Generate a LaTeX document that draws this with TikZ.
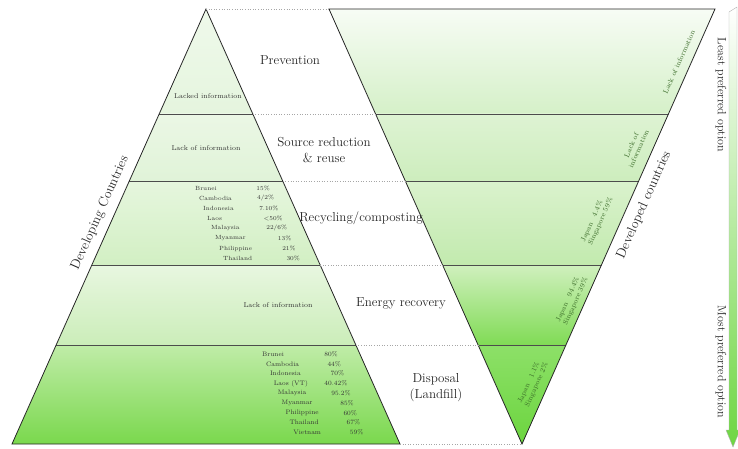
\documentclass[tikz,border=0pt]{standalone}
\usetikzlibrary{calc}

\definecolor{lA}{HTML}{EFF9EB}\definecolor{lB}{HTML}{E5F5DE}
\definecolor{lC}{HTML}{EBF7E5}\definecolor{lD}{HTML}{E0F3D8}
\definecolor{lE}{HTML}{E6F6DE}\definecolor{lF}{HTML}{D2EFC3}
\definecolor{lG}{HTML}{E8F7E0}\definecolor{lH}{HTML}{CBEDB9}
\definecolor{lI}{HTML}{C0ECA8}\definecolor{lJ}{HTML}{7AD84D}
\definecolor{rA}{HTML}{F7FCF5}\definecolor{rB}{HTML}{D5F0C8}
\definecolor{rC}{HTML}{DEF3D3}\definecolor{rD}{HTML}{CDEDBD}
\definecolor{rE}{HTML}{DAF2CD}\definecolor{rF}{HTML}{C2EAAE}
\definecolor{rG}{HTML}{D0F0BE}\definecolor{rH}{HTML}{80DB55}
\definecolor{rI}{HTML}{8DE068}\definecolor{rJ}{HTML}{6CD53F}
\definecolor{arrowgreen}{HTML}{6ED642}
\definecolor{devtext}{HTML}{3A6B28}

\begin{document}
\begin{tikzpicture}[x=1pt,y=-1pt,
  band/.style={draw=black!70,line width=0.5pt},
  gap/.style={draw=black!35,dotted,line width=0.6pt},
  level/.style={font=\fontsize{13}{16}\selectfont,align=center,text=black!85},
  side/.style={font=\fontsize{13.5}{16}\selectfont,text=black!85},
  pref/.style={font=\fontsize{12}{14}\selectfont,text=black!85,rotate=-90},
  note/.style={font=\fontsize{7}{8}\selectfont,text=black!80,align=center},
  lst/.style={font=\fontsize{6}{7}\selectfont,inner sep=0pt,text=black!80},
  dev/.style={font=\fontsize{7}{8}\selectfont,text=devtext,align=left,rotate=66}]

\useasboundingbox (0,0) rectangle (738,449);

% corners of both triangles
\coordinate (apex) at (206,9);
\coordinate (bl) at (12,444);
\coordinate (br) at (400,444);
\coordinate (tl) at (329,9);
\coordinate (tr) at (715,9);
\coordinate (tip) at (522,444);

% developing countries: pyramid
\begin{scope}
  \clip (apex) -- (bl) -- (br) -- cycle;
  \foreach \ya/\yb/\ca/\cb in {9/114/lA/lB,114/181/lC/lD,181/265/lE/lF,265/345/lG/lH,345/444/lI/lJ}
    \shade[top color=\ca,bottom color=\cb] (0,\ya) rectangle (420,\yb);
  \foreach \y in {114,181,265,345}
    \draw[band] (0,\y) -- (420,\y);
\end{scope}
\draw[line width=0.8pt,black!85] (apex) -- (bl) -- (br) -- cycle;

% developed countries: inverted pyramid
\begin{scope}
  \clip (tl) -- (tr) -- (tip) -- cycle;
  \foreach \ya/\yb/\ca/\cb in {9/114/rA/rB,114/181/rC/rD,181/265/rE/rF,265/345/rG/rH,345/444/rI/rJ}
    \shade[top color=\ca,bottom color=\cb] (310,\ya) rectangle (730,\yb);
  \foreach \y in {114,181,265,345}
    \draw[band] (310,\y) -- (730,\y);
\end{scope}
\draw[line width=0.8pt,black!85] (tl) -- (tr) -- (tip) -- cycle;

% dotted guides between the two
\draw[gap] (apex) -- (tl);
\foreach \y in {114,181,265,345}
  \draw[gap] ($(apex)!{(\y-9)/435}!(br)$) -- ($(tl)!{(\y-9)/435}!(tip)$);
\draw[gap] (br) -- (tip);

% preference arrow
\shade[top color=white,bottom color=arrowgreen,draw=black!30,line width=0.4pt]
  (729,12) -- (737,7) -- (737,430) -- (740,430) -- (733,447) -- (726,430) -- (729,430) -- cycle;
\node[pref] (least) at (721,95) {Least preferred option};
\node[pref] (most) at (721,362) {Most preferred option};

% hierarchy levels
\node[level] (prev) at (290,60) {Prevention};
\node[level] (src) at (324,150) {Source reduction\\\& reuse};
\node[level] (recy) at (361,218) {Recycling/composting};
\node[level] (enrg) at (401,303) {Energy recovery};
\node[level] (disp) at (436,388) {Disposal\\(Landfill)};

\node[side,rotate=66] (devg) at (100,213) {Developing Countries};
\node[side,rotate=66] (devd) at (644,205) {Developed countries};

% developing countries data
\node[note] (lk1) at (208,96) {Lacked information};
\node[note] (lk2) at (206,148) {Lack of information};
\node[note] (lk4) at (278,305) {Lack of information};

\foreach \nm/\pc [count=\i from 0] in {Brunei/15\%,Cambodia/4\slash2\%,Indonesia/7.10\%,Laos/<50\%,Malaysia/22\slash6\%,Myanmar/13\%,Philippine/21\%,Thailand/30\%}{
  \node[lst,anchor=west] (rn\i) at (195+4*\i,188+10.1*\i) {\nm};
  \node[lst,anchor=east] (rp\i) at (270+4.3*\i,188+10.1*\i) {\pc};
}

\foreach \nm/\pc [count=\i from 0] in {Brunei/80\%,Cambodia/44\%,Indonesia/70\%,Laos (VT)/40.42\%,Malaysia/95.2\%,Myanmar/85\%,Philippine/60\%,Thailand/67\%,Vietnam/59\%}{
  \node[lst,anchor=west,font=\fontsize{6.5}{7.5}\selectfont] (dn\i) at (262+3.9*\i,354+9.8*\i) {\nm};
  \node[lst,anchor=east,font=\fontsize{6.5}{7.5}\selectfont] (dp\i) at (338+3.2*\i,354+9.8*\i) {\pc};
}

% developed countries data
\node[dev] (jp1) at (679,62) {Lack of information};
\node[dev,align=center] (jp2) at (635,147) {Lack of\\information};
\node[dev] (jp3) at (597,220) {Japan\quad 4.4\%\\Singapore 59\%};
\node[dev] (jp4) at (572,300) {Japan\quad 94.4\%\\Singapore 39\%};
\node[dev] (jp5) at (533,383) {Japan\quad 1.1\%\\Singapore 2\%};
\end{tikzpicture}
\end{document}
